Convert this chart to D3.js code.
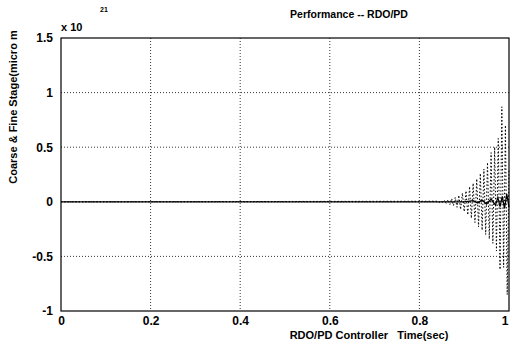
<!DOCTYPE html>
<html>
<head>
<meta charset="utf-8">
<script src="https://cdn.jsdelivr.net/npm/d3@7"></script>
<style>
  body { margin: 0; background: #fff; }
  text { font-family: "Liberation Sans", Arial, sans-serif; font-weight: bold; fill: #000; }
</style>
</head>
<body>
<div id="chart"></div>
<script>
const width = 510;
const height = 344;

// 数据 (单位 x 10^21)
const xTicks = [0, 0.2, 0.4, 0.6, 0.8, 1];
const yTicks = [-1, -0.5, 0, 0.5, 1, 1.5];
const xTickLabels = ['0', '0.2', '0.4', '0.6', '0.8', '1'];
const yTickLabels = ['-1', '-0.5', '0', '0.5', '1', '1.5'];

// fine stage 振荡 (虚线)
const fineTime = [0, 0.84, 0.844, 0.848, 0.852, 0.856, 0.86, 0.864, 0.868, 0.872, 0.876,
  0.88, 0.884, 0.888, 0.892, 0.896, 0.9, 0.904, 0.908, 0.912, 0.916, 0.92, 0.924, 0.928,
  0.932, 0.936, 0.94, 0.944, 0.948, 0.952, 0.956, 0.96, 0.964, 0.968, 0.972, 0.976, 0.98,
  0.984, 0.988, 0.992, 0.996, 1.0];
const fineValue = [0, 0.005, -0.006, 0.008, -0.01, 0.012, -0.015, 0.02, -0.025, 0.03, -0.035,
  0.04, -0.05, 0.06, -0.07, 0.08, -0.09, 0.1, -0.12, 0.14, -0.15, 0.17, -0.19, 0.21,
  -0.23, 0.26, -0.26, 0.3, -0.3, 0.36, -0.34, 0.45, -0.38, 0.5, -0.45, 0.58, -0.62,
  0.87, -0.6, 0.7, -0.85, 0.3];

// coarse stage (实线)
const coarseTime = [0, 0.9, 0.92, 0.93, 0.94, 0.95, 0.96, 0.97, 0.975, 0.98, 0.985, 0.99, 0.995, 1.0];
const coarseValue = [0, 0, 0.01, -0.01, 0.015, -0.02, 0.025, -0.03, 0.04, -0.045, 0.05, -0.06, 0.07, -0.05];

// 画布
const margin = { top: 38, right: 0, bottom: 33, left: 61 };
const svg = d3.select('#chart').append('svg')
  .attr('width', width)
  .attr('height', height);

const x = d3.scaleLinear().domain([0, 1]).range([margin.left, width - margin.right - 1]);
const y = d3.scaleLinear().domain([-1, 1.5]).range([height - margin.bottom, margin.top]);

// 网格
const grid = svg.append('g');
grid.selectAll('line.vx')
  .data(xTicks.slice(1, -1))
  .enter().append('line')
  .attr('x1', d => x(d)).attr('x2', d => x(d))
  .attr('y1', y(1.5)).attr('y2', y(-1))
  .attr('stroke', '#000').attr('stroke-width', 0.8)
  .attr('stroke-dasharray', '1,2');
grid.selectAll('line.hy')
  .data(yTicks.slice(1, -1))
  .enter().append('line')
  .attr('x1', x(0)).attr('x2', x(1))
  .attr('y1', d => y(d)).attr('y2', d => y(d))
  .attr('stroke', '#000').attr('stroke-width', 0.8)
  .attr('stroke-dasharray', '1,2');

// 数据线
const fine = fineTime.map((t, i) => [t, fineValue[i]]);
const coarse = coarseTime.map((t, i) => [t, coarseValue[i]]);
const line = d3.line().x(d => x(d[0])).y(d => y(d[1]));

svg.append('path')
  .datum(fine)
  .attr('d', line)
  .attr('fill', 'none')
  .attr('stroke', '#000')
  .attr('stroke-width', 1)
  .attr('stroke-dasharray', '1.5,2');

svg.append('path')
  .datum(coarse)
  .attr('d', line)
  .attr('fill', 'none')
  .attr('stroke', '#000')
  .attr('stroke-width', 1.3);

// 坐标轴
const xAxis = d3.axisBottom(x).tickValues(xTicks).tickFormat((d, i) => xTickLabels[i]).tickSize(0).tickPadding(5);
const yAxis = d3.axisLeft(y).tickValues(yTicks).tickFormat((d, i) => yTickLabels[i]).tickSize(0).tickPadding(8);

const gx = svg.append('g').attr('transform', `translate(0, ${y(-1)})`).call(xAxis);
const gy = svg.append('g').attr('transform', `translate(${x(0)}, 0)`).call(yAxis);
gx.select('.domain').remove();
gy.select('.domain').remove();
gx.selectAll('text').style('font-size', '12px').style('font-family', '"Liberation Sans", Arial, sans-serif').style('font-weight', 'bold');
gy.selectAll('text').style('font-size', '12px').style('font-family', '"Liberation Sans", Arial, sans-serif').style('font-weight', 'bold');
// 最后一个刻度贴边，往里挪一点
gx.selectAll('.tick:last-of-type text').attr('text-anchor', 'end').attr('dx', '-1');

// 边框
svg.append('rect')
  .attr('x', x(0)).attr('y', y(1.5))
  .attr('width', x(1) - x(0)).attr('height', y(-1) - y(1.5))
  .attr('fill', 'none')
  .attr('stroke', '#000')
  .attr('stroke-width', 1.2);

// 指数标记
svg.append('text').text('x 10')
  .attr('x', 61).attr('y', 31)
  .style('font-size', '11px');
svg.append('text').text('21')
  .attr('x', 100).attr('y', 12)
  .style('font-size', '7px');

// 标题
svg.append('text').text('Performance -- RDO/PD')
  .attr('x', 349).attr('y', 18)
  .attr('text-anchor', 'middle')
  .style('font-size', '10.5px');

// x 轴标题
svg.append('text').text('RDO/PD Controller   Time(sec)')
  .attr('x', 369).attr('y', 339)
  .attr('text-anchor', 'middle')
  .style('white-space', 'pre')
  .style('font-size', '11px');

// y 轴标题
svg.append('text').text('Coarse & Fine Stage(micro m')
  .attr('transform', 'translate(17, 107) rotate(-90)')
  .attr('text-anchor', 'middle')
  .style('font-size', '11px');
</script>
</body>
</html>
